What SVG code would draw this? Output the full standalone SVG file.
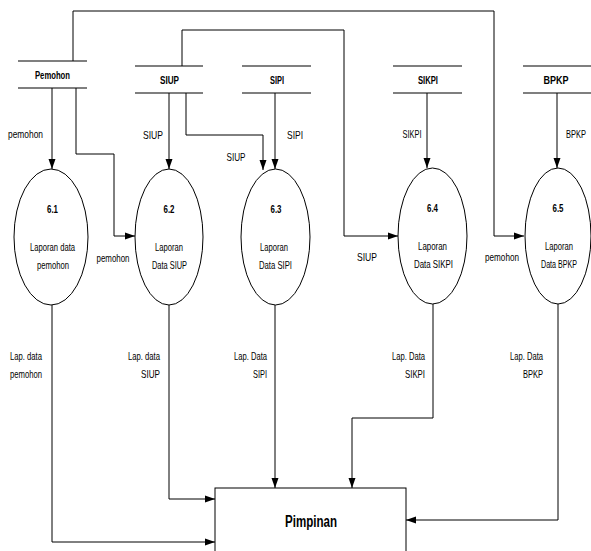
<svg xmlns="http://www.w3.org/2000/svg" width="591" height="551" viewBox="0 0 591 551">
<defs>
<style>
.ln{fill:none;stroke:#000;stroke-width:1}
.st{stroke:#000;stroke-width:1.2}
.el{fill:#fff;stroke:#000;stroke-width:1}
.t{font-family:"Liberation Sans",Arial,sans-serif;font-size:11px;fill:#000}
.b{font-weight:bold}
.m{text-anchor:middle}
.e{text-anchor:end}
</style>
<marker id="ar" markerWidth="10" markerHeight="8" refX="10" refY="4" orient="auto" markerUnits="userSpaceOnUse">
<path d="M0,0.5 L10,4 L0,7.5 Z" fill="#000"/>
</marker>
</defs>
<rect width="591" height="551" fill="#fff"/>

<g id="connectors">
<path class="ln" d="M73,61 V11 H494 V236 H524" marker-end="url(#ar)"/>
<path class="ln" d="M182,66 V30 H344 V236 H398" marker-end="url(#ar)"/>
<path class="ln" d="M52,88 V169" marker-end="url(#ar)"/>
<path class="ln" d="M76,88 V154 H114 V236 H135" marker-end="url(#ar)"/>
<path class="ln" d="M169,93 V169" marker-end="url(#ar)"/>
<path class="ln" d="M186,93 V135 H263 V170" marker-end="url(#ar)"/>
<path class="ln" d="M275,93 V169" marker-end="url(#ar)"/>
<path class="ln" d="M427,93 V168" marker-end="url(#ar)"/>
<path class="ln" d="M557,93 V168" marker-end="url(#ar)"/>
<path class="ln" d="M52,305 V542 H215" marker-end="url(#ar)"/>
<path class="ln" d="M169,305 V499 H215" marker-end="url(#ar)"/>
<path class="ln" d="M275,305 V488" marker-end="url(#ar)"/>
<path class="ln" d="M433,304 V418 H352 V488" marker-end="url(#ar)"/>
<path class="ln" d="M558,304 V520 H406" marker-end="url(#ar)"/>
<text class="t" x="8" y="138" textLength="35" lengthAdjust="spacingAndGlyphs">pemohon</text>
<text class="t m" x="153" y="139" textLength="20" lengthAdjust="spacingAndGlyphs">SIUP</text>
<text class="t m" x="236" y="161" textLength="19" lengthAdjust="spacingAndGlyphs">SIUP</text>
<text class="t m" x="295" y="139" textLength="16" lengthAdjust="spacingAndGlyphs">SIPI</text>
<text class="t m" x="412" y="138" textLength="19" lengthAdjust="spacingAndGlyphs">SIKPI</text>
<text class="t m" x="576" y="138" textLength="20" lengthAdjust="spacingAndGlyphs">BPKP</text>
<text class="t m" x="113" y="262" textLength="33" lengthAdjust="spacingAndGlyphs">pemohon</text>
<text class="t m" x="367" y="261" textLength="20" lengthAdjust="spacingAndGlyphs">SIUP</text>
<text class="t m" x="502" y="261" textLength="34" lengthAdjust="spacingAndGlyphs">pemohon</text>
<text class="t" x="10" y="360" textLength="32" lengthAdjust="spacingAndGlyphs">Lap. data</text>
<text class="t" x="10" y="378" textLength="32" lengthAdjust="spacingAndGlyphs">pemohon</text>
<text class="t e" x="160" y="360" textLength="32" lengthAdjust="spacingAndGlyphs">Lap. data</text>
<text class="t e" x="160" y="378" textLength="19" lengthAdjust="spacingAndGlyphs">SIUP</text>
<text class="t e" x="267" y="360" textLength="33" lengthAdjust="spacingAndGlyphs">Lap. Data</text>
<text class="t e" x="267" y="378" textLength="14" lengthAdjust="spacingAndGlyphs">SIPI</text>
<text class="t e" x="425" y="360" textLength="33" lengthAdjust="spacingAndGlyphs">Lap. Data</text>
<text class="t e" x="425" y="378" textLength="20" lengthAdjust="spacingAndGlyphs">SIKPI</text>
<text class="t e" x="543" y="360" textLength="33" lengthAdjust="spacingAndGlyphs">Lap. Data</text>
<text class="t e" x="543" y="378" textLength="20" lengthAdjust="spacingAndGlyphs">BPKP</text>
</g>

<g id="store-pemohon">
<line class="st" x1="18" y1="61" x2="87" y2="61"/>
<line class="st" x1="18" y1="88" x2="87" y2="88"/>
<text class="t b m" x="52.5" y="79" textLength="35" lengthAdjust="spacingAndGlyphs">Pemohon</text>
</g>
<g id="store-siup">
<line class="st" x1="135" y1="66" x2="203" y2="66"/>
<line class="st" x1="135" y1="93" x2="203" y2="93"/>
<text class="t b m" x="169.5" y="84" textLength="19" lengthAdjust="spacingAndGlyphs">SIUP</text>
</g>
<g id="store-sipi">
<line class="st" x1="242" y1="66" x2="311" y2="66"/>
<line class="st" x1="242" y1="93" x2="311" y2="93"/>
<text class="t b m" x="277" y="84" textLength="14" lengthAdjust="spacingAndGlyphs">SIPI</text>
</g>
<g id="store-sikpi">
<line class="st" x1="393" y1="66" x2="462" y2="66"/>
<line class="st" x1="393" y1="93" x2="462" y2="93"/>
<text class="t b m" x="428" y="84" textLength="20" lengthAdjust="spacingAndGlyphs">SIKPI</text>
</g>
<g id="store-bpkp">
<line class="st" x1="523" y1="66" x2="591" y2="66"/>
<line class="st" x1="523" y1="93" x2="591" y2="93"/>
<text class="t b m" x="556" y="84" textLength="25" lengthAdjust="spacingAndGlyphs">BPKP</text>
</g>

<g id="p61">
<ellipse class="el" cx="51" cy="237" rx="37" ry="68"/>
<text class="t b m" x="52.5" y="213" textLength="11" lengthAdjust="spacingAndGlyphs">6.1</text>
<text class="t m" x="52.5" y="251" textLength="45" lengthAdjust="spacingAndGlyphs">Laporan data</text>
<text class="t m" x="53" y="269" textLength="32" lengthAdjust="spacingAndGlyphs">pemohon</text>
</g>
<g id="p62">
<ellipse class="el" cx="169" cy="237" rx="34" ry="68"/>
<text class="t b m" x="169" y="213" textLength="11" lengthAdjust="spacingAndGlyphs">6.2</text>
<text class="t m" x="169" y="251" textLength="28" lengthAdjust="spacingAndGlyphs">Laporan</text>
<text class="t m" x="169.5" y="269" textLength="35" lengthAdjust="spacingAndGlyphs">Data SIUP</text>
</g>
<g id="p63">
<ellipse class="el" cx="275.5" cy="237" rx="34.5" ry="68"/>
<text class="t b m" x="276" y="213" textLength="11" lengthAdjust="spacingAndGlyphs">6.3</text>
<text class="t m" x="274" y="251" textLength="28" lengthAdjust="spacingAndGlyphs">Laporan</text>
<text class="t m" x="275.5" y="269" textLength="33" lengthAdjust="spacingAndGlyphs">Data SIPI</text>
</g>
<g id="p64">
<ellipse class="el" cx="432.5" cy="236" rx="34.5" ry="68"/>
<text class="t b m" x="432.5" y="212" textLength="11" lengthAdjust="spacingAndGlyphs">6.4</text>
<text class="t m" x="432.5" y="250" textLength="29" lengthAdjust="spacingAndGlyphs">Laporan</text>
<text class="t m" x="433.5" y="268" textLength="39" lengthAdjust="spacingAndGlyphs">Data SIKPI</text>
</g>
<g id="p65">
<ellipse class="el" cx="558" cy="236" rx="33" ry="68"/>
<text class="t b m" x="558" y="212" textLength="11" lengthAdjust="spacingAndGlyphs">6.5</text>
<text class="t m" x="559" y="250" textLength="28" lengthAdjust="spacingAndGlyphs">Laporan</text>
<text class="t m" x="559" y="268" textLength="36" lengthAdjust="spacingAndGlyphs">Data BPKP</text>
</g>

<g id="pimpinan">
<rect class="el" x="215" y="488" width="191" height="70"/>
<text class="t b m" x="311" y="527" style="font-size:16px" textLength="52" lengthAdjust="spacingAndGlyphs">Pimpinan</text>
</g>
</svg>
